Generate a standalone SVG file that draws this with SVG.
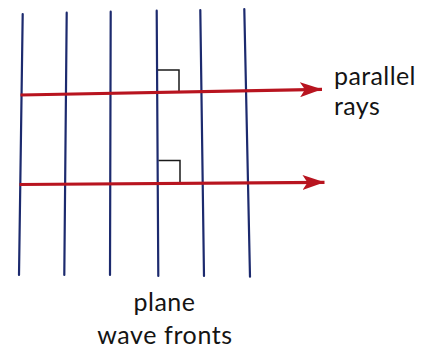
<svg xmlns="http://www.w3.org/2000/svg" width="425" height="353" viewBox="0 0 425 353">
<defs>
<style>
.wf{stroke:#1c2a6e;stroke-width:2.2;fill:none;stroke-linecap:round}
.ray{stroke:#b8141f;stroke-width:3.2;fill:none}
.ra{stroke:#1a1a1a;stroke-width:1.5;fill:none}
.lbl{font-family:Lato,"Open Sans","Liberation Sans",sans-serif;font-size:25px;fill:#141414}
</style>
<marker id="ah" viewBox="0 0 22 15" refX="22" refY="7.5" markerWidth="22" markerHeight="15" markerUnits="userSpaceOnUse" orient="auto">
<path d="M0,0 L22,7.5 L0,15 L5,7.5 Z" fill="#b8141f"/>
</marker>
</defs>
<rect width="425" height="353" fill="#fff"/>
<g id="wavefronts">
<g id="wf1"><line class="wf" x1="22.7" y1="14" x2="19" y2="275"/></g>
<g id="wf2"><line class="wf" x1="66.7" y1="12.7" x2="64.3" y2="275"/></g>
<g id="wf3"><line class="wf" x1="110.7" y1="11.7" x2="110" y2="275"/></g>
<g id="wf4"><line class="wf" x1="156.7" y1="10.7" x2="158.3" y2="276"/></g>
<g id="wf5"><line class="wf" x1="200.3" y1="10" x2="204" y2="276"/></g>
<g id="wf6"><line class="wf" x1="244.3" y1="9" x2="250" y2="276.7"/></g>
</g>
<g id="right-angles">
<g id="ra1"><polyline class="ra" points="157.8,70 179,70 179,91.5"/></g>
<g id="ra2"><polyline class="ra" points="158.5,160.5 180,160.5 180,183"/></g>
</g>
<g id="connectors">
<line id="ray1" class="ray" x1="20.5" y1="95" x2="322" y2="89.3" marker-end="url(#ah)"/>
<line id="ray2" class="ray" x1="19.5" y1="184.5" x2="324.5" y2="182.3" marker-end="url(#ah)"/>
</g>
<g id="label-rays">
<text class="lbl" letter-spacing="0.4"><tspan x="334" y="85">parallel</tspan><tspan x="334" y="115">rays</tspan></text>
</g>
<g id="label-fronts">
<text class="lbl" text-anchor="middle"><tspan x="164.5" y="311" letter-spacing="0.5">plane</tspan><tspan x="165" y="344" letter-spacing="0.6">wave fronts</tspan></text>
</g>
</svg>
